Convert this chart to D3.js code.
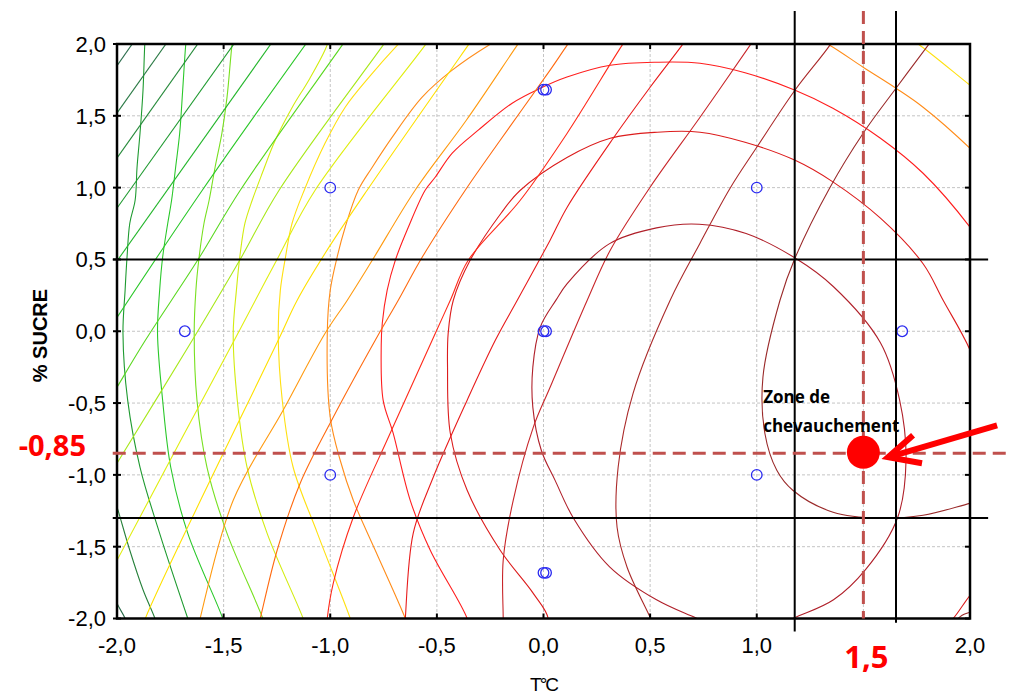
<!DOCTYPE html>
<html>
<head>
<meta charset="utf-8">
<script src="https://cdn.jsdelivr.net/npm/d3@7"></script>
<style>
  body { margin: 0; background: #fff; }
  svg { display: block; }
</style>
</head>
<body>
<svg id="chart" width="1012" height="697"></svg>
<script>
// ---- axis ticks ----
const xTicks = [-2, -1.5, -1, -0.5, 0, 0.5, 1, 1.5, 2];
const yTicks = [-2, -1.5, -1, -0.5, 0, 0.5, 1, 1.5, 2];
// the 1,5 position on the T axis carries the optimum label instead
const xTickLabels = [-2, -1.5, -1, -0.5, 0, 0.5, 1, 2];

// ---- experimental design points (coded units) ----
const designX = [0, 0.012, -1, 1, -1.682, 0, 0.012, 1.682, -1, 1, 0, 0.012];
const designY = [1.682, 1.682, 1, 1, 0, 0, 0, 0, -1, -1, -1.682, -1.682];

// ---- overlap zone limits and chosen optimum ----
const zoneX = [1.178, 1.653];
const zoneY = [0.5, -1.3];
const optimumX = 1.5;
const optimumY = -0.85;

// ---- response 1: diagonal iso-lines (green -> dark red) ----
const diagColors = ["#2e6e4e", "#2b7a45", "#268a3a", "#1f9a30", "#22b52a", "#2cc82a", "#5ad820",
  "#a8e81a", "#e0ee10", "#ffe000", "#ff9a10", "#ff6a10", "#ff2a1a", "#e81c1c", "#c8262a",
  "#aa2a2a", "#9a2a2a", "#9a2a2a"];
const diagPaths = [
  [[-1.867, 2.131], [-2.064, 1.713]],
  [[-1.708, 2.131], [-2.064, 1.386]],
  [[-1.559, 2.131], [-2.064, 1.072]],
  [[-1.389, 2.131], [-2.064, 0.724]],
  [[-1.216, 2.131], [-2.064, 0.355]],
  [[-1.051, 2.131], [-1.60, 0.982], [-2.064, -0.049]],
  [[-0.879, 2.131], [-0.944, 1.992], [-1.422, 0.982], [-1.619, 0.501], [-1.867, -0.063], [-2.0, -0.39], [-2.064, -0.55]],
  [[-0.686, 2.131], [-0.752, 1.992], [-1.24, 0.982], [-1.422, 0.501], [-1.647, -0.063], [-2.0, -0.919], [-2.056, -1.058]],
  [[-0.489, 2.131], [-0.555, 1.992], [-1.071, 0.982], [-1.249, 0.501], [-1.45, -0.063], [-2.0, -1.595], [-2.041, -1.72]],
  [[-0.287, 2.131], [-0.353, 1.992], [-0.827, 0.982], [-1.024, 0.543], [-1.155, 0.216], [-1.244, -0.063], [-1.867, -1.999], [-1.90, -2.15]],
  [[-0.058, 2.131], [-0.123, 1.992], [-0.362, 1.469], [-0.602, 0.982], [-0.803, 0.494], [-0.92, 0.216], [-1.024, -0.014], [-1.221, -0.55], [-1.455, -1.177], [-1.61, -1.999], [-1.628, -2.117]],
  [[0.177, 2.131], [0.111, 1.992], [0.031, 1.818], [-0.203, 1.33], [-0.367, 0.982], [-0.569, 0.515], [-0.681, 0.216], [-0.789, -0.063], [-0.986, -0.599], [-1.141, -1.058], [-1.249, -1.525], [-1.328, -1.999], [-1.347, -2.117]],
  [[0.434, 2.131], [0.369, 1.992], [0.111, 1.379], [-0.109, 0.912], [-0.353, 0.494], [-0.437, 0.216], [-0.522, -0.063], [-0.719, -0.71], [-0.892, -1.295], [-0.986, -1.755], [-1.014, -1.999], [-1.019, -2.117]],
  [[0.716, 2.131], [0.65, 1.992], [0.5, 1.699], [0.327, 1.344], [0.111, 0.864], [0.031, 0.634], [-0.123, 0.216], [-0.226, -0.063], [-0.358, -0.48], [-0.517, -1.017], [-0.611, -1.407], [-0.648, -1.999], [-0.653, -2.117]],
  [[1.035, 2.131], [0.969, 1.992], [0.734, 1.49], [0.5, 1.003], [0.313, 0.564], [0.205, 0.216], [0.031, -0.39], [-0.048, -0.669], [-0.142, -1.177], [-0.189, -1.595], [-0.189, -1.999], [-0.189, -2.117]],
  [[1.40, 2.131], [1.343, 1.992], [1.179, 1.678], [1.0, 1.281], [0.875, 0.996], [0.734, 0.613], [0.594, 0.216], [0.42, -0.432], [0.35, -0.947], [0.345, -1.365], [0.392, -1.643], [0.5, -1.992], [0.538, -2.117]],
  [[1.874, 2.131], [1.804, 1.992], [1.653, 1.692], [1.499, 1.379], [1.344, 1.003], [1.179, 0.508], [1.109, 0.216], [1.029, -0.32], [1.038, -0.71], [1.094, -0.968], [1.169, -1.107], [1.358, -1.26], [1.578, -1.302], [1.78, -1.281], [2.0, -1.198], [2.094, -1.163]],
  [[1.93, -2.02], [1.963, -1.978], [2.0, -1.957], [2.07, -1.93]]
];

// ---- response 2: closed iso-curves around the maximum (outer -> inner) ----
const ringColors = ["#2a6a4a", "#26803a", "#1e9a30", "#2ac82a", "#78e020", "#d2ec10",
  "#ffe010", "#ffe010", "#ff8c1a", "#ff8c1a", "#ff1e1e", "#dc1c1c", "#b0202a"];
const ringPaths = [
  [[-2.06, -1.7], [-2.02, -1.80], [-2.0, -1.894], [-1.962, -2.0], [-1.94, -2.1]],
  [[-2.05, -0.95], [-2.01, -1.177], [-1.995, -1.247], [-1.94, -1.525], [-1.878, -1.80], [-1.822, -2.0], [-1.80, -2.1]],
  [[-1.64, -2.12], [-1.668, -2.0], [-1.8, -1.407], [-1.892, -0.947], [-1.95, -0.48], [-1.972, -0.014], [-1.962, 0.286], [-1.953, 0.515], [-1.94, 0.752], [-1.915, 0.912], [-1.906, 1.142], [-1.892, 1.38], [-1.878, 1.678], [-1.87, 1.99], [-1.865, 2.1]],
  [[-1.48, -2.12], [-1.504, -2.0], [-1.668, -1.407], [-1.748, -0.947], [-1.786, -0.48], [-1.81, -0.014], [-1.80, 0.286], [-1.786, 0.515], [-1.762, 0.752], [-1.744, 0.912], [-1.725, 1.142], [-1.706, 1.38], [-1.692, 1.678], [-1.678, 1.99], [-1.67, 2.1]],
  [[-1.29, -2.12], [-1.316, -2.0], [-1.484, -1.407], [-1.578, -0.947], [-1.625, -0.48], [-1.638, -0.014], [-1.63, 0.286], [-1.615, 0.515], [-1.592, 0.752], [-1.568, 0.912], [-1.54, 1.142], [-1.508, 1.38], [-1.484, 1.63], [-1.461, 1.99], [-1.45, 2.1]],
  [[-1.10, -2.12], [-1.127, -2.0], [-1.296, -1.407], [-1.39, -0.947], [-1.436, -0.48], [-1.455, -0.014], [-1.44, 0.286], [-1.422, 0.543], [-1.40, 0.752], [-1.366, 0.912], [-1.319, 1.10], [-1.258, 1.33], [-1.178, 1.56], [-1.10, 1.75], [-1.024, 1.96], [-0.99, 2.1]],
  [[-0.88, -2.12], [-0.906, -2.0], [-1.06, -1.407], [-1.174, -0.947], [-1.225, -0.48], [-1.244, -0.014], [-1.234, 0.286], [-1.21, 0.515], [-1.179, 0.752], [-1.122, 0.982], [-1.024, 1.31], [-0.93, 1.56], [-0.812, 1.78], [-0.686, 1.99], [-0.6, 2.12]],
  [[1.65, 2.1], [1.766, 1.99], [2.0, 1.713], [2.1, 1.6]],
  [[-0.62, -2.12], [-0.648, -2.0], [-0.789, -1.525], [-0.892, -1.177], [-0.953, -0.9], [-1.0, -0.6], [-1.014, -0.014], [-1.0, 0.286], [-0.968, 0.515], [-0.93, 0.724], [-0.869, 0.982], [-0.803, 1.142], [-0.71, 1.35], [-0.569, 1.63], [-0.428, 1.818], [-0.259, 1.99], [-0.1, 2.12]],
  [[1.2, 2.1], [1.344, 1.99], [1.499, 1.838], [1.653, 1.692], [1.78, 1.56], [2.0, 1.274], [2.1, 1.12]],
  [[-0.34, -2.12], [-0.358, -2.0], [-0.531, -1.525], [-0.625, -1.177], [-0.705, -0.71], [-0.752, -0.48], [-0.761, -0.1], [-0.756, 0.056], [-0.733, 0.286], [-0.695, 0.494], [-0.634, 0.724], [-0.555, 0.982], [-0.508, 1.072], [-0.428, 1.24], [-0.306, 1.40], [-0.147, 1.588], [-0.015, 1.692], [0.11, 1.77], [0.313, 1.852], [0.533, 1.873], [0.734, 1.866], [0.945, 1.80], [1.18, 1.678], [1.357, 1.553], [1.58, 1.344], [1.78, 1.10], [2.0, 0.724], [2.1, 0.5]],
  [[0.0, -2.15], [0.022, -2.0], [-0.048, -1.825], [-0.203, -1.525], [-0.358, -1.107], [-0.437, -0.71], [-0.45, -0.25], [-0.447, -0.014], [-0.423, 0.216], [-0.344, 0.494], [-0.20, 0.82], [-0.11, 0.98], [0.11, 1.21], [0.313, 1.344], [0.533, 1.386], [0.734, 1.386], [0.945, 1.316], [1.18, 1.19], [1.357, 1.04], [1.58, 0.787], [1.78, 0.47], [1.874, 0.216], [2.0, -0.13], [2.1, -0.55], [2.15, -1.2], [2.08, -1.7], [2.0, -1.838], [1.921, -2.0], [1.85, -2.1]],
  [[0.95, -2.15], [0.72, -2.0], [0.53, -1.87], [0.31, -1.64], [0.14, -1.30], [0.055, -1.04], [-0.01, -0.83], [-0.05, -0.53], [-0.05, -0.25], [-0.015, 0.03], [0.06, 0.22], [0.11, 0.33], [0.31, 0.61], [0.53, 0.72], [0.73, 0.745], [0.95, 0.68], [1.18, 0.51], [1.36, 0.31], [1.58, -0.08], [1.67, -0.48], [1.70, -0.90], [1.66, -1.30], [1.51, -1.66], [1.36, -1.87], [1.17, -2.0], [0.95, -2.15]]
];

// ---- annotation arrow pointing at the optimum ----
const arrowTail = [2.127, -0.655];
const arrowTip = [1.616, -0.877];
const arrowWings = [[1.733, -0.724], [1.775, -0.919]];

// ---- labels ----
const xTitle = "T°C";
const yTitle = "% SUCRE";
const zoneLabel = ["Zone de", "chevauchement"];

const svg = d3.select("#chart");
const x = d3.scaleLinear().domain([-2, 2]).range([117, 970]);
const y = d3.scaleLinear().domain([-2, 2]).range([618.5, 44]);
const locale = d3.formatLocale({ decimal: ",", thousands: ".", grouping: [3], currency: ["", ""], minus: "-" });
const fmt = locale.format(".1f");
const fmt2 = locale.format(".2f");

svg.append("defs").append("clipPath").attr("id", "plotClip")
  .append("rect").attr("x", x(-2)).attr("y", y(2)).attr("width", x(2) - x(-2)).attr("height", y(-2) - y(2));

// grid
const grid = svg.append("g").attr("stroke", "#c4c4c4").attr("stroke-width", 1).attr("stroke-dasharray", "3,2");
grid.selectAll("line.gx").data(xTicks.slice(1, -1)).join("line")
  .attr("x1", d => x(d)).attr("x2", d => x(d)).attr("y1", y(2)).attr("y2", y(-2));
grid.selectAll("line.gy").data(yTicks.slice(1, -1)).join("line")
  .attr("y1", d => y(d)).attr("y2", d => y(d)).attr("x1", x(-2)).attr("x2", x(2));

// iso-lines
const line = d3.line().x(d => x(d[0])).y(d => y(d[1])).curve(d3.curveCatmullRom.alpha(0.5));
const iso = svg.append("g").attr("clip-path", "url(#plotClip)").attr("fill", "none").attr("stroke-width", 1.1);
iso.selectAll("path.ring").data(ringPaths).join("path").attr("class", "ring")
  .attr("d", line).attr("stroke", (d, i) => ringColors[i]);
iso.selectAll("path.diag").data(diagPaths).join("path").attr("class", "diag")
  .attr("d", line).attr("stroke", (d, i) => diagColors[i]);

// design points
svg.append("g").selectAll("circle").data(designX.map((v, i) => [v, designY[i]])).join("circle")
  .attr("cx", d => x(d[0])).attr("cy", d => y(d[1])).attr("r", 5.3)
  .attr("fill", "none").attr("stroke", "#2a2af0").attr("stroke-width", 1.3);

// frame and ticks
svg.append("rect").attr("x", x(-2)).attr("y", y(2)).attr("width", x(2) - x(-2)).attr("height", y(-2) - y(2))
  .attr("fill", "none").attr("stroke", "#000").attr("stroke-width", 2.5);
const tk = svg.append("g").attr("stroke", "#000").attr("stroke-width", 2);
tk.selectAll("line.b").data(xTicks).join("line").attr("x1", d => x(d)).attr("x2", d => x(d)).attr("y1", y(-2)).attr("y2", y(-2) - 5);
tk.selectAll("line.t").data(xTicks).join("line").attr("x1", d => x(d)).attr("x2", d => x(d)).attr("y1", y(2)).attr("y2", y(2) + 5);
tk.selectAll("line.l").data(yTicks).join("line").attr("y1", d => y(d)).attr("y2", d => y(d)).attr("x1", x(-2) - 4).attr("x2", x(-2) + 4);
tk.selectAll("line.r").data(yTicks).join("line").attr("y1", d => y(d)).attr("y2", d => y(d)).attr("x1", x(2)).attr("x2", x(2) - 5);

// tick labels
const tl = svg.append("g").attr("font-family", "'Liberation Sans', Arial, sans-serif").attr("font-size", 22).attr("fill", "#000");
tl.selectAll("text.x").data(xTickLabels).join("text").attr("x", d => x(d)).attr("y", 653)
  .attr("text-anchor", "middle").text(d => fmt(d));
tl.selectAll("text.y").data(yTicks).join("text").attr("x", 106).attr("y", d => y(d)).attr("dy", "0.36em")
  .attr("text-anchor", "end").text(d => fmt(d));

// axis titles
svg.append("text").attr("x", x(0)).attr("y", 691).attr("text-anchor", "middle")
  .attr("font-family", "'Liberation Sans', Arial, sans-serif").attr("font-size", 19).attr("letter-spacing", -2).text(xTitle);
svg.append("text").attr("transform", `translate(47,${y(-0.03)}) rotate(-90)`).attr("text-anchor", "middle")
  .attr("font-family", "'Liberation Sans', Arial, sans-serif").attr("font-size", 20).attr("font-weight", "bold").text(yTitle);

// overlap zone limits
const zl = svg.append("g").attr("stroke", "#000").attr("stroke-width", 2);
zl.selectAll("line.h").data(zoneY).join("line").attr("x1", x(-2.02)).attr("x2", x(2.085)).attr("y1", d => y(d)).attr("y2", d => y(d));
zl.selectAll("line.v").data(zoneX).join("line").attr("x1", d => x(d)).attr("x2", d => x(d)).attr("y1", y(2.23)).attr("y2", (d, i) => y(i === 0 ? -2.09 : -2.03));

// optimum reference lines
const ref = svg.append("g").attr("stroke", "#c0504d").attr("stroke-width", 3).attr("stroke-dasharray", "13,7");
ref.append("line").attr("x1", x(optimumX)).attr("x2", x(optimumX)).attr("y1", y(2.23)).attr("y2", y(-2));
ref.append("line").attr("x1", x(-2.02)).attr("x2", x(2.2)).attr("y1", y(optimumY)).attr("y2", y(optimumY));

// optimum marker and arrow
svg.append("circle").attr("cx", x(optimumX)).attr("cy", y(optimumY) - 1).attr("r", 16.5).attr("fill", "#ff0000");
const ar = svg.append("g").attr("stroke", "#ff0000").attr("stroke-width", 6).attr("fill", "none");
ar.append("line").attr("x1", x(arrowTail[0])).attr("y1", y(arrowTail[1])).attr("x2", x(arrowTip[0]) + 4).attr("y2", y(arrowTip[1]) - 1);
ar.append("path").attr("stroke-linejoin", "miter")
  .attr("d", `M${x(arrowWings[0][0])},${y(arrowWings[0][1])}L${x(arrowTip[0])},${y(arrowTip[1])}L${x(arrowWings[1][0])},${y(arrowWings[1][1])}`);

// annotations
const ann = svg.append("g").attr("font-family", "'Open Sans', sans-serif").attr("font-weight", "bold");
ann.selectAll("text.z").data(zoneLabel).join("text").attr("x", x(1.03)).attr("y", (d, i) => y(-0.5) + i * 29)
  .attr("font-size", 17).attr("fill", "#000").text(d => d);
ann.append("text").attr("x", 86).attr("y", y(optimumY) + 3).attr("text-anchor", "end")
  .attr("font-size", 29).attr("fill", "#ff0000").text(fmt2(optimumY));
ann.append("text").attr("x", x(optimumX) + 3).attr("y", 668).attr("text-anchor", "middle")
  .attr("font-size", 31).attr("fill", "#ff0000").text(fmt(optimumX));
</script>
</body>
</html>
